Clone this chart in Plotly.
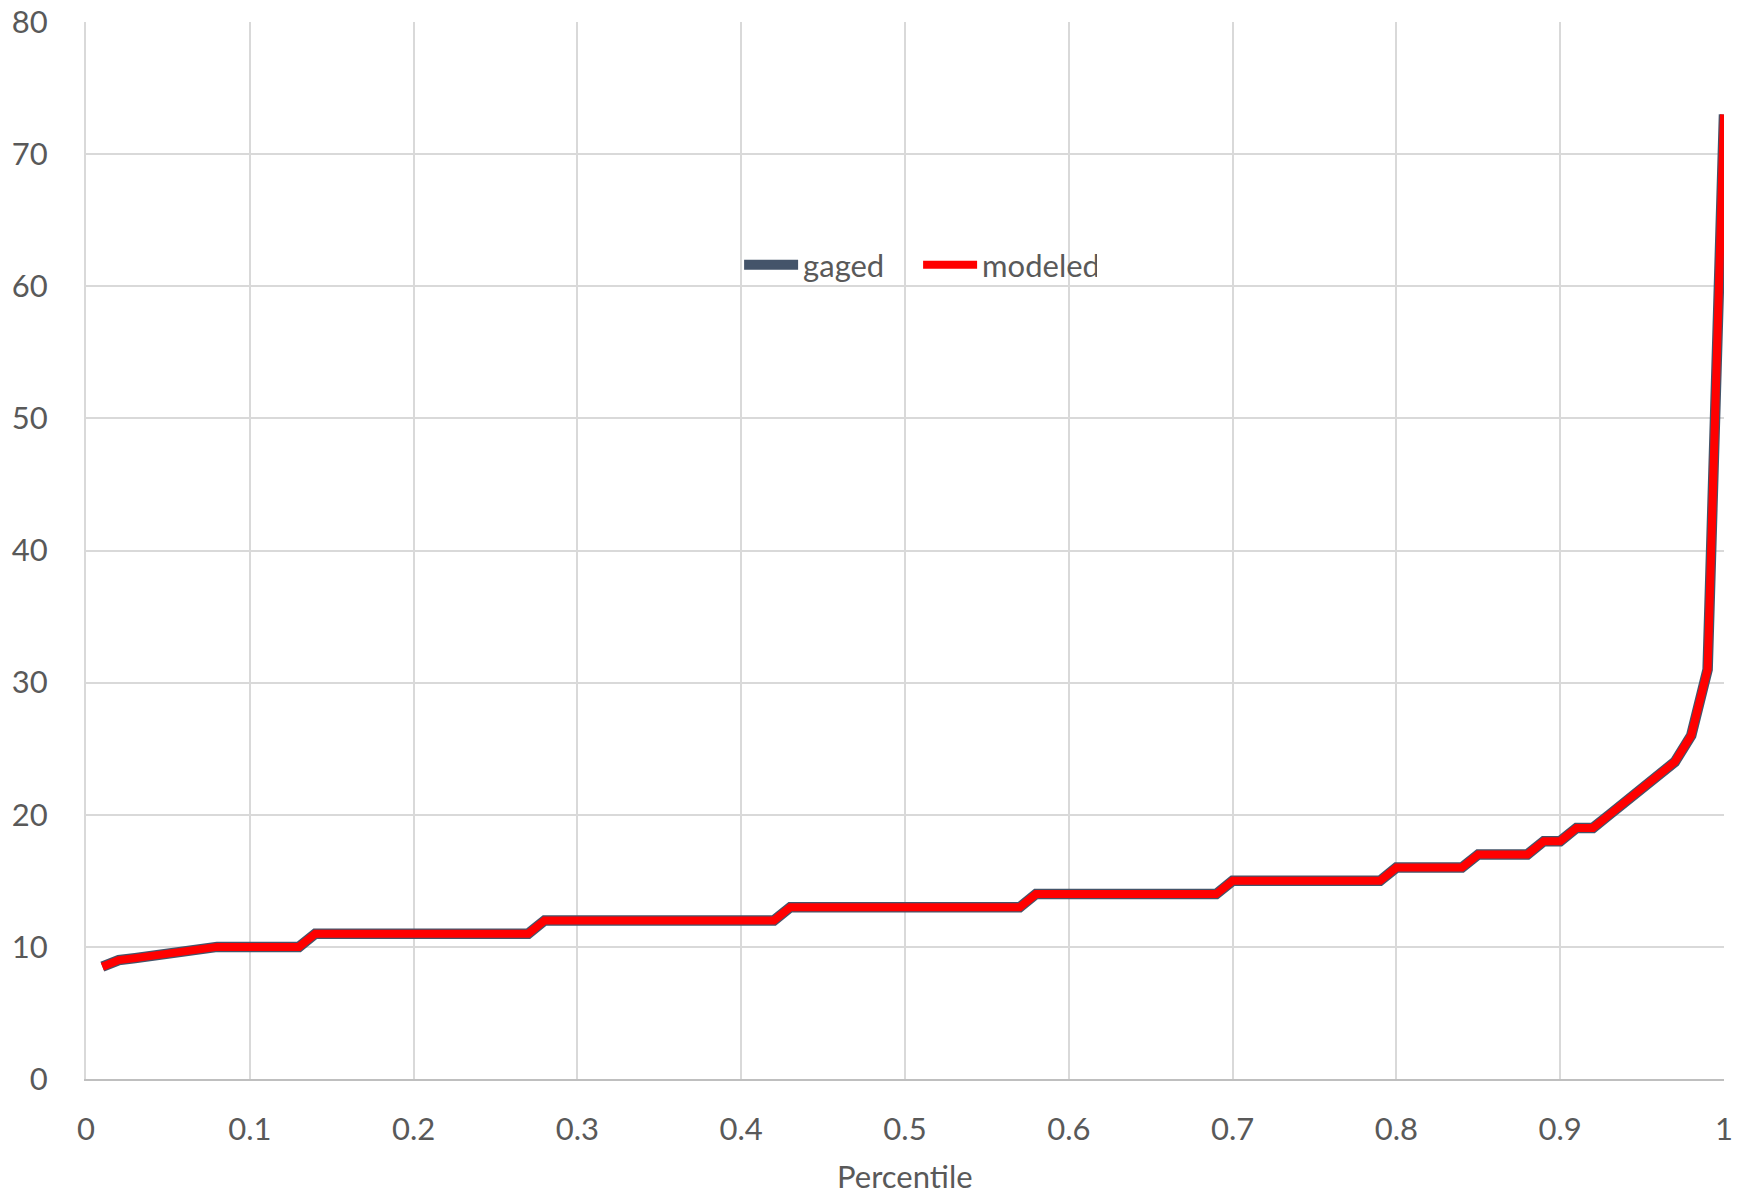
import plotly.graph_objects as go

# percentile (0.01 .. 1.00) and flow values
percentile = [round(0.01 * i, 2) for i in range(1, 101)]

gaged = [
    8.5, 9.0, 9.15, 9.35, 9.5, 9.65, 9.85, 10, 10, 10,
    10, 10, 10, 11, 11, 11, 11, 11, 11, 11,
    11, 11, 11, 11, 11, 11, 11, 12, 12, 12,
    12, 12, 12, 12, 12, 12, 12, 12, 12, 12,
    12, 12, 13, 13, 13, 13, 13, 13, 13, 13,
    13, 13, 13, 13, 13, 13, 13, 14, 14, 14,
    14, 14, 14, 14, 14, 14, 14, 14, 14, 15,
    15, 15, 15, 15, 15, 15, 15, 15, 15, 16,
    16, 16, 16, 16, 17, 17, 17, 17, 18, 18,
    19, 19, 20, 21, 22, 23, 24, 26, 31, 73,
]
modeled = list(gaged)

font_family = "Lato, 'Noto Sans', sans-serif"
text_color = "#595959"

fig = go.Figure()

fig.add_trace(go.Scatter(
    x=percentile, y=gaged,
    mode="lines", name="gaged",
    line=dict(color="#44546A", width=10.5),
))
fig.add_trace(go.Scatter(
    x=percentile, y=modeled,
    mode="lines", name="modeled",
    line=dict(color="#FF0000", width=8),
))

fig.update_layout(
    width=1745, height=1196,
    margin=dict(l=86, r=21, t=22, b=117),
    paper_bgcolor="white",
    plot_bgcolor="white",
    font=dict(family=font_family, size=31, color=text_color),
    legend=dict(
        orientation="h",
        x=0.508, y=0.77,
        xanchor="center", yanchor="middle",
        bgcolor="rgba(0,0,0,0)",
        font=dict(size=31, color=text_color),
        itemwidth=54,
        entrywidth=110,
    ),
    showlegend=True,
)

# x axis title as an annotation so it sits where the original has it
fig.add_annotation(
    text="Percentile",
    xref="paper", yref="paper",
    x=0.5, y=-0.0913,
    xanchor="center", yanchor="middle",
    showarrow=False,
    font=dict(size=31, color=text_color),
)

fig.update_xaxes(
    range=[0, 1],
    dtick=0.1,
    tick0=0,
    automargin=False,
    showgrid=True,
    gridcolor="#D9D9D9",
    gridwidth=2,
    showline=True,
    linecolor="#BFBFBF",
    linewidth=2,
    zeroline=False,
    ticks="",
    ticklabelstandoff=22,
    ticklabeloverflow="allow",
)

fig.update_yaxes(
    range=[0, 80],
    dtick=10,
    automargin=False,
    showgrid=True,
    gridcolor="#D9D9D9",
    gridwidth=2,
    showline=True,
    linecolor="#D9D9D9",
    linewidth=2,
    zeroline=False,
    ticks="",
    ticklabelstandoff=30,
    ticklabeloverflow="allow",
)

# drop the default page margin so the figure fills the window exactly
fig.write_html(
    "out.html",
    config={"displayModeBar": False},
    post_script="document.body.style.margin='0';document.body.style.overflow='hidden';",
)
